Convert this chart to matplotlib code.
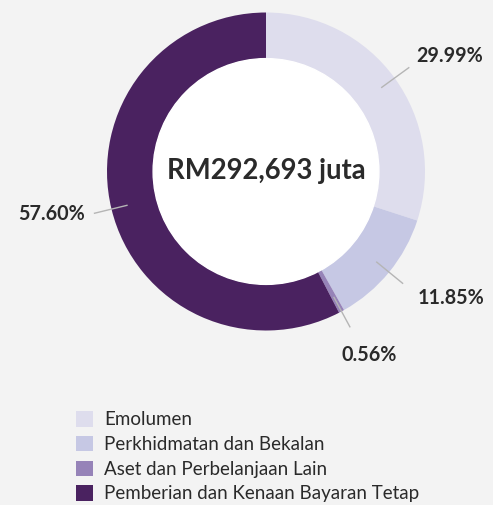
import numpy as np
import matplotlib
matplotlib.use("Agg")
import matplotlib.pyplot as plt

plt.rcParams["font.family"] = ["Lato", "DejaVu Sans"]

# Data
categories = ["Emolumen", "Perkhidmatan dan Bekalan",
              "Aset dan Perbelanjaan Lain", "Pemberian dan Kenaan Bayaran Tetap"]
shares = [29.99, 11.85, 0.56, 57.60]
pct_labels = ["29.99%", "11.85%", "0.56%", "57.60%"]
total_label = "RM292,693 juta"

colors = ["#dedded", "#c6c8e4", "#9683b8", "#4a2260"]
bg = "#f3f3f3"
text_col = "#2a2a2a"

W, H = 493, 505
fig = plt.figure(figsize=(W / 100, H / 100), dpi=100, facecolor=bg)

# donut axes: centre (266, 171.5) px from top-left, outer radius 159 px
cx, cy, R = 266, 171.5, 159
ax = fig.add_axes([(cx - R) / W, (H - cy - R) / H, 2 * R / W, 2 * R / H])
ax.set_facecolor("none")

wedges, _ = ax.pie(shares, colors=colors, startangle=90, counterclock=False,
                   radius=1.0, wedgeprops=dict(width=0.29, linewidth=0))
ax.add_patch(plt.Circle((0, 0), 0.71, color="white", zorder=3))
ax.set_xlim(-1, 1)
ax.set_ylim(-1, 1)
ax.axis("off")

ax.text(0, 0, total_label, ha="center", va="center", fontsize=19.8,
        fontweight="bold", color=text_col, zorder=4)

# leader lines + percentage labels
offsets = [(7, 12, "left", "center"), (15, -15, "left", "center"),
           (19, -28, "center", "center"), (-10, -1, "right", "center")]
for w, lab, (dx, dy, ha, va) in zip(wedges, pct_labels, offsets):
    ang = np.deg2rad((w.theta1 + w.theta2) / 2)
    x0, y0 = 0.9 * np.cos(ang), 0.9 * np.sin(ang)
    x1, y1 = 1.11 * np.cos(ang), 1.11 * np.sin(ang)
    ax.plot([x0, x1], [y0, y1], color="#b5b5b5", lw=1, zorder=5, clip_on=False)
    ax.annotate(lab, xy=(x1, y1), xytext=(dx, dy), textcoords="offset pixels",
                ha=ha, va=va, fontsize=14.2, fontweight="bold", color=text_col,
                annotation_clip=False)

leg = fig.legend(wedges, categories, loc="upper left",
                 bbox_to_anchor=(76 / W, 1 - 411 / H), frameon=False,
                 fontsize=13.5, handlelength=0.9, handleheight=0.9,
                 handletextpad=0.62, labelspacing=0.4, borderpad=0,
                 borderaxespad=0)
for t in leg.get_texts():
    t.set_color(text_col)

fig.savefig("out.png", dpi=100, facecolor=bg)
